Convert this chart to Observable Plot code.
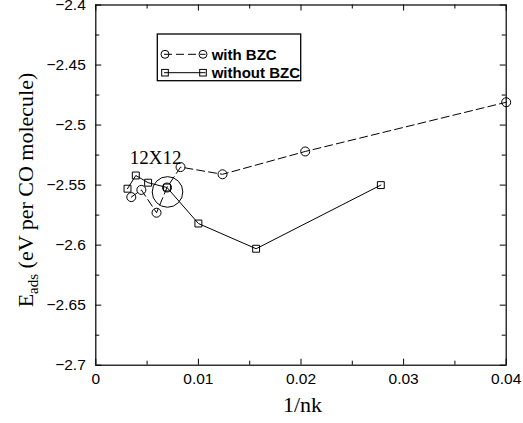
<!DOCTYPE html>
<html>
<head>
<meta charset="utf-8">
<script src="https://cdn.jsdelivr.net/npm/d3@7"></script>
<script src="https://cdn.jsdelivr.net/npm/@observablehq/plot@0.6"></script>
<style>
  html, body { margin: 0; padding: 0; background: #fff; }
  #chart { width: 523px; height: 423px; }
</style>
</head>
<body>
<div id="chart"></div>
<script>
// ---- data ----
const seriesNames = ["with BZC", "without BZC"];
const withX = [0.00346, 0.00444, 0.00592, 0.00694, 0.00826, 0.01235, 0.02041, 0.04];
const withY = [-2.560, -2.554, -2.573, -2.552, -2.535, -2.541, -2.522, -2.481];
const withoutX = [0.00309, 0.0039, 0.0051, 0.00694, 0.01, 0.015625, 0.02778];
const withoutY = [-2.553, -2.542, -2.548, -2.552, -2.582, -2.603, -2.550];
const highlightX = [0.00699];
const highlightY = [-2.5557];
const annotationText = ["12X12"];
const annotationX = [0.00582];
const annotationY = [-2.5323];
const xTicks = [0, 0.01, 0.02, 0.03, 0.04];
const xMinor = [0.005, 0.015, 0.025, 0.035];
const yTicks = [-2.7, -2.65, -2.6, -2.55, -2.5, -2.45, -2.4];
const yMinor = [-2.675, -2.625, -2.575, -2.525, -2.475, -2.425];
const xLabel = "1/nk";
const yLabelMain = "E";
const yLabelSub = "ads";
const yLabelRest = " (eV per CO molecule)";

const withData = withX.map((x, i) => ({x, y: withY[i]}));
const withoutData = withoutX.map((x, i) => ({x, y: withoutY[i]}));
const highlight = highlightX.map((x, i) => ({x, y: highlightY[i]}));
const annot = annotationText.map((t, i) => ({t, x: annotationX[i], y: annotationY[i]}));

const W = 523, H = 423;
const mL = 95.3, mR = 17.3, mT = 4.5, mB = 58.3;
const FW = W - mL - mR, FH = H - mT - mB;
const majorLen = 6, minorLen = 4;
const fmt = d => String(+d.toFixed(3)).replace("-", "\u2212");
const tickFont = 15.5;

const plot = Plot.plot({
  width: W, height: H,
  marginLeft: mL, marginRight: mR, marginTop: mT, marginBottom: mB,
  style: {fontFamily: "'Liberation Sans', Arial, sans-serif", fontSize: tickFont + "px", color: "#000", background: "#fff"},
  x: {domain: [0, 0.04]},
  y: {domain: [-2.7, -2.4]},
  marks: [
    Plot.axisX({ticks: xTicks, tickSize: 0, tickPadding: 8, tickFormat: fmt, label: null, fontSize: tickFont}),
    Plot.axisY({ticks: yTicks, tickSize: 0, tickPadding: 10, tickFormat: fmt, label: null, fontSize: tickFont}),
    // inward ticks on all four sides
    Plot.tickX(xTicks, {x: d => d, insetTop: FH - majorLen, stroke: "#000"}),
    Plot.tickX(xTicks, {x: d => d, insetBottom: FH - majorLen, stroke: "#000"}),
    Plot.tickX(xMinor, {x: d => d, insetTop: FH - minorLen, stroke: "#000"}),
    Plot.tickX(xMinor, {x: d => d, insetBottom: FH - minorLen, stroke: "#000"}),
    Plot.tickY(yTicks, {y: d => d, insetRight: FW - majorLen, stroke: "#000"}),
    Plot.tickY(yTicks, {y: d => d, insetLeft: FW - majorLen, stroke: "#000"}),
    Plot.tickY(yMinor, {y: d => d, insetRight: FW - minorLen, stroke: "#000"}),
    Plot.tickY(yMinor, {y: d => d, insetLeft: FW - minorLen, stroke: "#000"}),
    Plot.frame({stroke: "#000", strokeWidth: 1.2}),
    Plot.line(withData, {x: "x", y: "y", stroke: "#000", strokeWidth: 1, strokeDasharray: "8,4"}),
    Plot.dot(withData, {x: "x", y: "y", r: 4.5, stroke: "#000", fill: "none", strokeWidth: 1}),
    Plot.line(withoutData, {x: "x", y: "y", stroke: "#000", strokeWidth: 1}),
    Plot.dot(withoutData, {x: "x", y: "y", symbol: "square", r: 3.9, stroke: "#000", fill: "none", strokeWidth: 1}),
    Plot.dot(highlight, {x: "x", y: "y", r: 15.3, stroke: "#000", fill: "none", strokeWidth: 1}),
    Plot.text(annot, {x: "x", y: "y", text: "t", textAnchor: "middle", lineAnchor: "bottom",
      fontFamily: "'Liberation Serif', 'Times New Roman', serif", fontSize: 19, fill: "#000"})
  ]
});

document.getElementById("chart").appendChild(plot);
const svg = d3.select(plot);

// axis titles
svg.append("text")
  .attr("x", (mL + W - mR) / 2 + 2).attr("y", 412)
  .attr("text-anchor", "middle")
  .attr("font-family", "'Liberation Serif', 'Times New Roman', serif")
  .attr("font-size", 22).attr("fill", "#000")
  .text(xLabel);

const yl = svg.append("text")
  .attr("transform", "translate(33,190) rotate(-90)")
  .attr("text-anchor", "middle")
  .attr("font-family", "'Liberation Serif', 'Times New Roman', serif")
  .attr("font-size", 22).attr("fill", "#000");
yl.append("tspan").text(yLabelMain);
yl.append("tspan").attr("font-size", 15).attr("dy", 5).text(yLabelSub);
yl.append("tspan").attr("dy", -5).text(yLabelRest);

// legend (inside plot area)
const lg = svg.append("g").attr("text-anchor", "start");
lg.append("rect").attr("x", 157.3).attr("y", 34).attr("width", 143.4).attr("height", 46.7)
  .attr("fill", "#fff").attr("stroke", "#000").attr("stroke-width", 1.3);
const rows = [
  {name: seriesNames[0], y: 54.3, dash: "8,4", sym: "circle"},
  {name: seriesNames[1], y: 72.7, dash: null, sym: "square"}
];
for (const r of rows) {
  lg.append("line").attr("x1", 164).attr("x2", 205.5).attr("y1", r.y).attr("y2", r.y)
    .attr("stroke", "#000").attr("stroke-dasharray", r.dash);
  for (const cx of [165, 203]) {
    if (r.sym === "circle") {
      lg.append("circle").attr("cx", cx).attr("cy", r.y).attr("r", 4).attr("fill", "none").attr("stroke", "#000");
    } else {
      lg.append("rect").attr("x", cx - 3.3).attr("y", r.y - 3.3).attr("width", 6.6).attr("height", 6.6)
        .attr("fill", "none").attr("stroke", "#000");
    }
  }
  lg.append("text").attr("x", 211.7).attr("y", r.y + 5.2).attr("text-anchor", "start")
    .attr("font-family", "'Liberation Sans', Arial, sans-serif").attr("font-weight", "bold")
    .attr("font-size", 15).attr("fill", "#000").text(r.name);
}
</script>
</body>
</html>
